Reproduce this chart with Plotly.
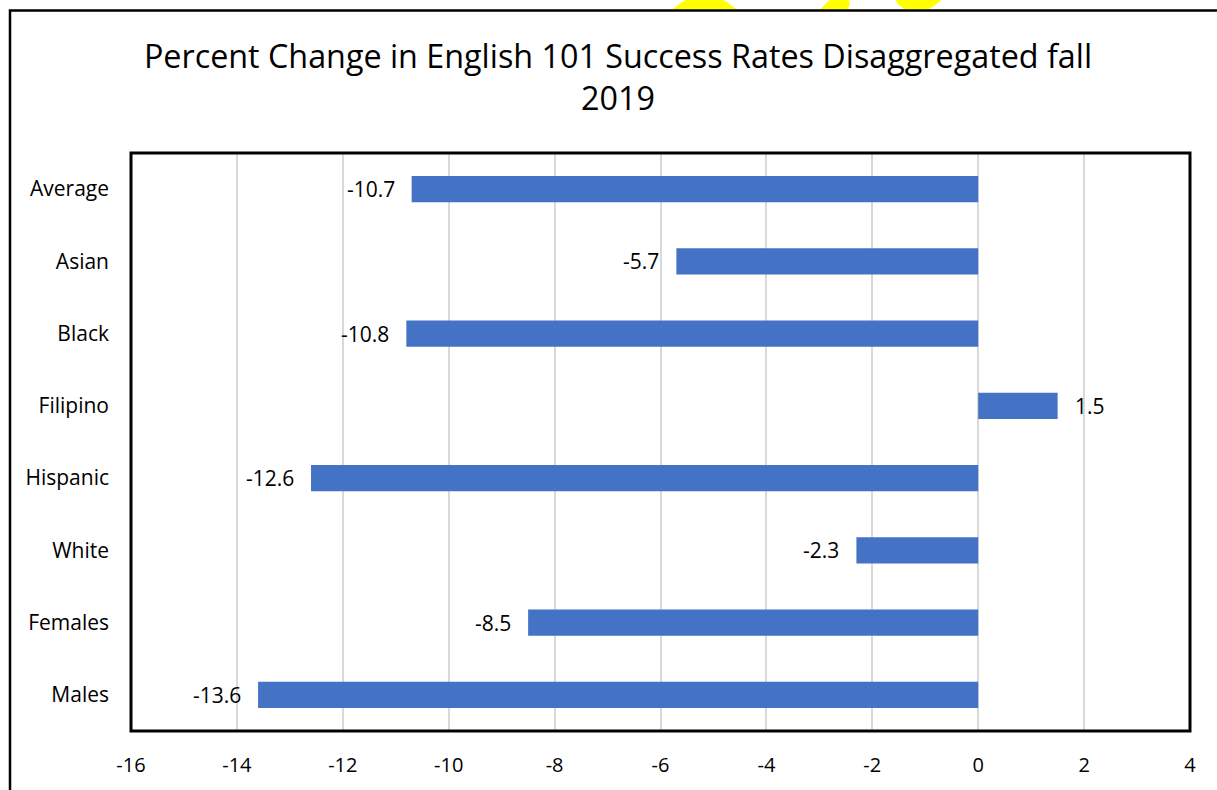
import plotly.graph_objects as go

categories = ["Average", "Asian", "Black", "Filipino", "Hispanic", "White", "Females", "Males"]
values = [-10.7, -5.7, -10.8, 1.5, -12.6, -2.3, -8.5, -13.6]
x_ticks = [-16, -14, -12, -10, -8, -6, -4, -2, 0, 2, 4]
title_text = "Percent Change in English 101 Success Rates Disaggregated fall<br>2019"

W, H = 1217, 790
L, R, T, B = 131, 1190, 153, 733
FONT = "Open Sans, Noto Sans, sans-serif"

def px(x):
    return (x - L) / (R - L)

def py(y):
    return (B - y) / (B - T)

fig = go.Figure()
fig.add_trace(go.Bar(
    y=categories, x=values, orientation="h",
    marker=dict(color="#4472C4", line=dict(width=0)),
    width=0.36,
    hoverinfo="x+y",
))

annotations = []
for c, v in zip(categories, values):
    annotations.append(dict(
        x=v, y=c, xref="x", yref="y",
        text=f"{v:.1f}", showarrow=False,
        xanchor="right" if v < 0 else "left",
        xshift=-15 if v < 0 else 15,
        font=dict(size=21, color="#000000", family=FONT),
    ))

shapes = [
    # outer chart border
    dict(type="rect", xref="paper", yref="paper",
         x0=px(10), x1=px(1225), y0=py(800), y1=py(10),
         line=dict(color="#000000", width=2.5), fillcolor="rgba(0,0,0,0)", layer="above"),
    # plot area border
    dict(type="rect", xref="paper", yref="paper",
         x0=0, x1=1, y0=0, y1=1,
         line=dict(color="#000000", width=3), fillcolor="rgba(0,0,0,0)", layer="above"),
]

# yellow decorations peeking above the top border
def poly(pts):
    d = "M " + " L ".join(f"{px(x)},{py(y)}" for x, y in pts) + " Z"
    return dict(type="path", xref="paper", yref="paper", path=d,
                fillcolor="#FFFF00", line=dict(width=0), layer="below")

shapes.append(poly([(672, 9), (683, 1), (690, -2), (720, -2), (726, 1), (737, 9)]))
shapes.append(poly([(820, 9), (828, 1), (832, -2), (848, -2), (850, 3), (848, 9)]))
shapes.append(poly([(895, -2), (943, -2), (935, 5), (928, 9), (905, 9), (898, 4)]))

fig.update_layout(
    width=W, height=H,
    margin=dict(l=L, r=W - R, t=T, b=H - B),
    paper_bgcolor="#FFFFFF", plot_bgcolor="#FFFFFF",
    title=dict(text=title_text, x=618 / W, xref="container", xanchor="center",
               y=1 - 68 / H, yref="container", yanchor="top",
               font=dict(size=32.3, color="#000000", family=FONT)),
    showlegend=False,
    bargap=0.64,
    xaxis=dict(range=[-16, 4], tickvals=x_ticks, ticktext=[str(t) for t in x_ticks],
               showgrid=True, gridcolor="#D9D9D9", gridwidth=2,
               zeroline=True, zerolinecolor="#D9D9D9", zerolinewidth=2,
               showline=False, ticks="", ticklen=0,
               ticklabelstandoff=20,
               tickfont=dict(size=20, color="#000000", family=FONT)),
    yaxis=dict(categoryorder="array", categoryarray=categories[::-1],
               showgrid=False, zeroline=False, showline=False, ticks="",
               ticklabelstandoff=21,
               tickfont=dict(size=21, color="#000000", family=FONT)),
    annotations=annotations,
    shapes=shapes,
    font=dict(family=FONT),
)

fig.write_html("out.html", config={"displayModeBar": False},
               post_script="document.body.style.margin='0';document.body.style.overflow='hidden';")
